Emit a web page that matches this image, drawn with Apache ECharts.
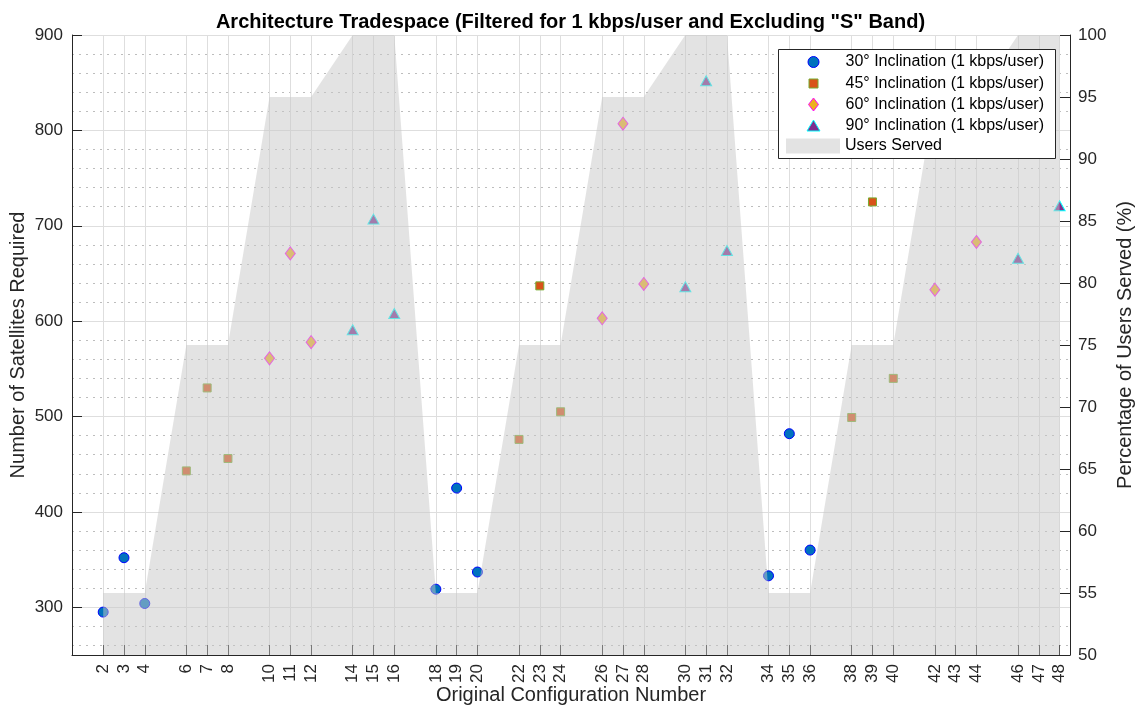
<!DOCTYPE html>
<html>
<head>
<meta charset="utf-8">
<script src="https://cdn.jsdelivr.net/npm/echarts@6/dist/echarts.min.js"></script>
<style>
  html, body { margin: 0; padding: 0; background: #ffffff; }
  #chart { width: 1141px; height: 709px; }
</style>
</head>
<body>
<div id="chart"></div>
<script>
// Configuration numbers present on the x axis (every 4th number, 1 mod 4, is excluded)
const configNumbers = [2,3,4,6,7,8,10,11,12,14,15,16,18,19,20,22,23,24,26,27,28,30,31,32,34,35,36,38,39,40,42,43,44,46,47,48];
// Percentage of users served for each configuration
const usersServedPct = [55,55,55,75,75,75,95,95,95,100,100,100,55,55,55,75,75,75,95,95,95,100,100,100,55,55,55,75,75,75,95,95,95,100,100,100];

// Satellites required, per inclination
const inc30Configs = [2,3,4,18,19,20,34,35,36];
const inc30Sats    = [295,352,304,319,425,337,333,482,360];
const inc45Configs = [6,7,8,22,23,24,38,39,40];
const inc45Sats    = [443,530,456,476,637,505,499,725,540];
const inc60Configs = [10,11,12,26,27,28,42,44];
const inc60Sats    = [561,671,578,603,807,639,633,683];
const inc90Configs = [14,15,16,30,31,32,46,48];
const inc90Sats    = [591,707,608,636,852,674,666,721];

// Axis tick values
const satMajorTicks = [300,400,500,600,700,800,900];
const satMinorTicks = [260,280,320,340,360,380,420,440,460,480,520,540,560,580,620,640,660,680,720,740,760,780,820,840,860,880];

const seriesNames = [
  '30° Inclination (1 kbps/user)',
  '45° Inclination (1 kbps/user)',
  '60° Inclination (1 kbps/user)',
  '90° Inclination (1 kbps/user)',
  'Users Served'
];

const zip = (xs, ys) => xs.map((x, i) => [x, ys[i]]);

const FONT = '"Liberation Sans", Arial, Helvetica, sans-serif';
const INK = '#262626';
const LEGEND_LINE = 18;

const chart = echarts.init(document.getElementById('chart'), null, { renderer: 'canvas' });

// One legend per entry so each icon can have its own size
function legendEntry(name, centerY, w, h, icon, itemStyle) {
  const textX = 845;
  const iconCx = 813;
  const left = iconCx - w / 2;
  const pad = textX - (left + w + 5);
  return {
    data: [{ name: name, icon: icon, itemStyle: itemStyle }],
    left: left,
    top: centerY - Math.max(h, LEGEND_LINE) / 2,
    orient: 'vertical',
    itemWidth: w, itemHeight: h,
    padding: 0,
    selectedMode: false,
    z: 200,
    textStyle: {
      fontFamily: FONT, fontSize: 16, color: '#000', lineHeight: LEGEND_LINE,
      padding: [0, 0, 0, pad]
    }
  };
}

const option = {
  animation: false,
  backgroundColor: '#ffffff',
  title: {
    text: 'Architecture Tradespace (Filtered for 1 kbps/user and Excluding "S" Band)',
    left: 'center', top: 7,
    textStyle: { fontFamily: FONT, fontSize: 20, fontWeight: 'bold', color: '#000' }
  },
  grid: { left: 72, right: 71, top: 35, bottom: 54, containLabel: false, outerBoundsMode: 'none' },
  legend: [
    legendEntry(seriesNames[0], 62, 11, 11, 'circle', { color: '#0072BD', borderColor: '#0000FF', borderWidth: 1, opacity: 1 }),
    legendEntry(seriesNames[1], 83.5, 9, 9, 'rect', { color: '#D95319', borderColor: '#77AC30', borderWidth: 1, opacity: 1 }),
    legendEntry(seriesNames[2], 104.5, 10, 13, 'diamond', { color: '#EDB120', borderColor: '#FF00FF', borderWidth: 1, opacity: 1 }),
    legendEntry(seriesNames[3], 125.5, 13, 11, 'triangle', { color: '#7E2F8E', borderColor: '#00FFFF', borderWidth: 1, opacity: 1 }),
    legendEntry(seriesNames[4], 146, 54, 15, 'rect', { color: '#e3e3e3', borderWidth: 0, opacity: 1 })
  ],
  graphic: [{
    type: 'rect', z: 100,
    shape: { x: 778.5, y: 49.5, width: 277, height: 109 },
    style: { fill: '#ffffff', stroke: INK, lineWidth: 1 }
  }],
  xAxis: {
    type: 'value',
    min: 0.5, max: 48.5,
    name: 'Original Configuration Number',
    nameLocation: 'middle', nameGap: 30, nameMoveOverlap: false,
    nameTextStyle: { fontFamily: FONT, fontSize: 20, color: INK },
    axisLine: { show: true, onZero: false, lineStyle: { color: INK, width: 1 } },
    axisTick: { show: true, inside: true, length: 10, lineStyle: { color: INK }, customValues: configNumbers },
    axisLabel: {
      show: true, rotate: 90, margin: 9, customValues: configNumbers,
      fontFamily: FONT, fontSize: 17, color: INK
    },
    splitLine: { show: true, customValues: configNumbers, lineStyle: { color: '#dedede', width: 1 } }
  },
  yAxis: [
    {
      type: 'value',
      position: 'left',
      min: 250, max: 900,
      name: 'Number of Satellites Required',
      nameLocation: 'middle', nameGap: 44, nameRotate: 90, nameMoveOverlap: false,
      nameTextStyle: { fontFamily: FONT, fontSize: 20, color: INK },
      axisLine: { show: true, lineStyle: { color: INK, width: 1 } },
      axisTick: { show: true, inside: true, length: 10, lineStyle: { color: INK }, customValues: satMajorTicks },
      axisLabel: { show: true, margin: 9, customValues: satMajorTicks, fontFamily: FONT, fontSize: 17, color: INK },
      splitLine: { show: true, customValues: satMajorTicks, lineStyle: { color: '#dedede', width: 1 } }
    },
    {
      type: 'value',
      position: 'right',
      min: 50, max: 100, interval: 5,
      name: 'Percentage of Users Served (%)',
      nameLocation: 'middle', nameGap: 45, nameRotate: 90, nameMoveOverlap: false,
      nameTextStyle: { fontFamily: FONT, fontSize: 20, color: INK },
      axisLine: { show: true, lineStyle: { color: INK, width: 1 } },
      axisTick: { show: true, inside: true, length: 10, lineStyle: { color: INK } },
      axisLabel: { show: true, margin: 8, fontFamily: FONT, fontSize: 17, color: INK },
      splitLine: { show: false }
    },
    {
      // dotted minor grid for the satellite axis
      type: 'value',
      position: 'left',
      min: 250, max: 900,
      axisLine: { show: false },
      axisLabel: { show: false, customValues: satMinorTicks },
      axisTick: { show: false, customValues: satMinorTicks },
      splitLine: { show: true, customValues: satMinorTicks, lineStyle: { color: '#bdbdbd', width: 1, type: [2, 5] } }
    }
  ],
  series: [
    {
      name: seriesNames[0], type: 'scatter', yAxisIndex: 0, z: 2,
      symbol: 'circle', symbolSize: 10,
      itemStyle: { color: '#0072BD', borderColor: '#0000FF', borderWidth: 1, opacity: 1 },
      data: zip(inc30Configs, inc30Sats)
    },
    {
      name: seriesNames[1], type: 'scatter', yAxisIndex: 0, z: 2,
      symbol: 'rect', symbolSize: 8,
      itemStyle: { color: '#D95319', borderColor: '#77AC30', borderWidth: 1, opacity: 1 },
      data: zip(inc45Configs, inc45Sats)
    },
    {
      name: seriesNames[2], type: 'scatter', yAxisIndex: 0, z: 2,
      symbol: 'diamond', symbolSize: [10, 13],
      itemStyle: { color: '#EDB120', borderColor: '#FF00FF', borderWidth: 1, opacity: 1 },
      data: zip(inc60Configs, inc60Sats)
    },
    {
      name: seriesNames[3], type: 'scatter', yAxisIndex: 0, z: 2,
      symbol: 'triangle', symbolSize: [11, 10],
      itemStyle: { color: '#7E2F8E', borderColor: '#00FFFF', borderWidth: 1, opacity: 1 },
      data: zip(inc90Configs, inc90Sats)
    },
    {
      // translucent band drawn over the markers
      name: seriesNames[4], type: 'line', yAxisIndex: 1, z: 3,
      symbol: 'none', smooth: false,
      lineStyle: { width: 0, color: 'rgba(200,200,200,0)' },
      itemStyle: { color: 'rgba(200,200,200,0.5)' },
      areaStyle: { color: 'rgba(200,200,200,0.5)', opacity: 1, origin: 'start' },
      data: zip(configNumbers, usersServedPct)
    }
  ]
};

chart.setOption(option);
</script>
</body>
</html>
